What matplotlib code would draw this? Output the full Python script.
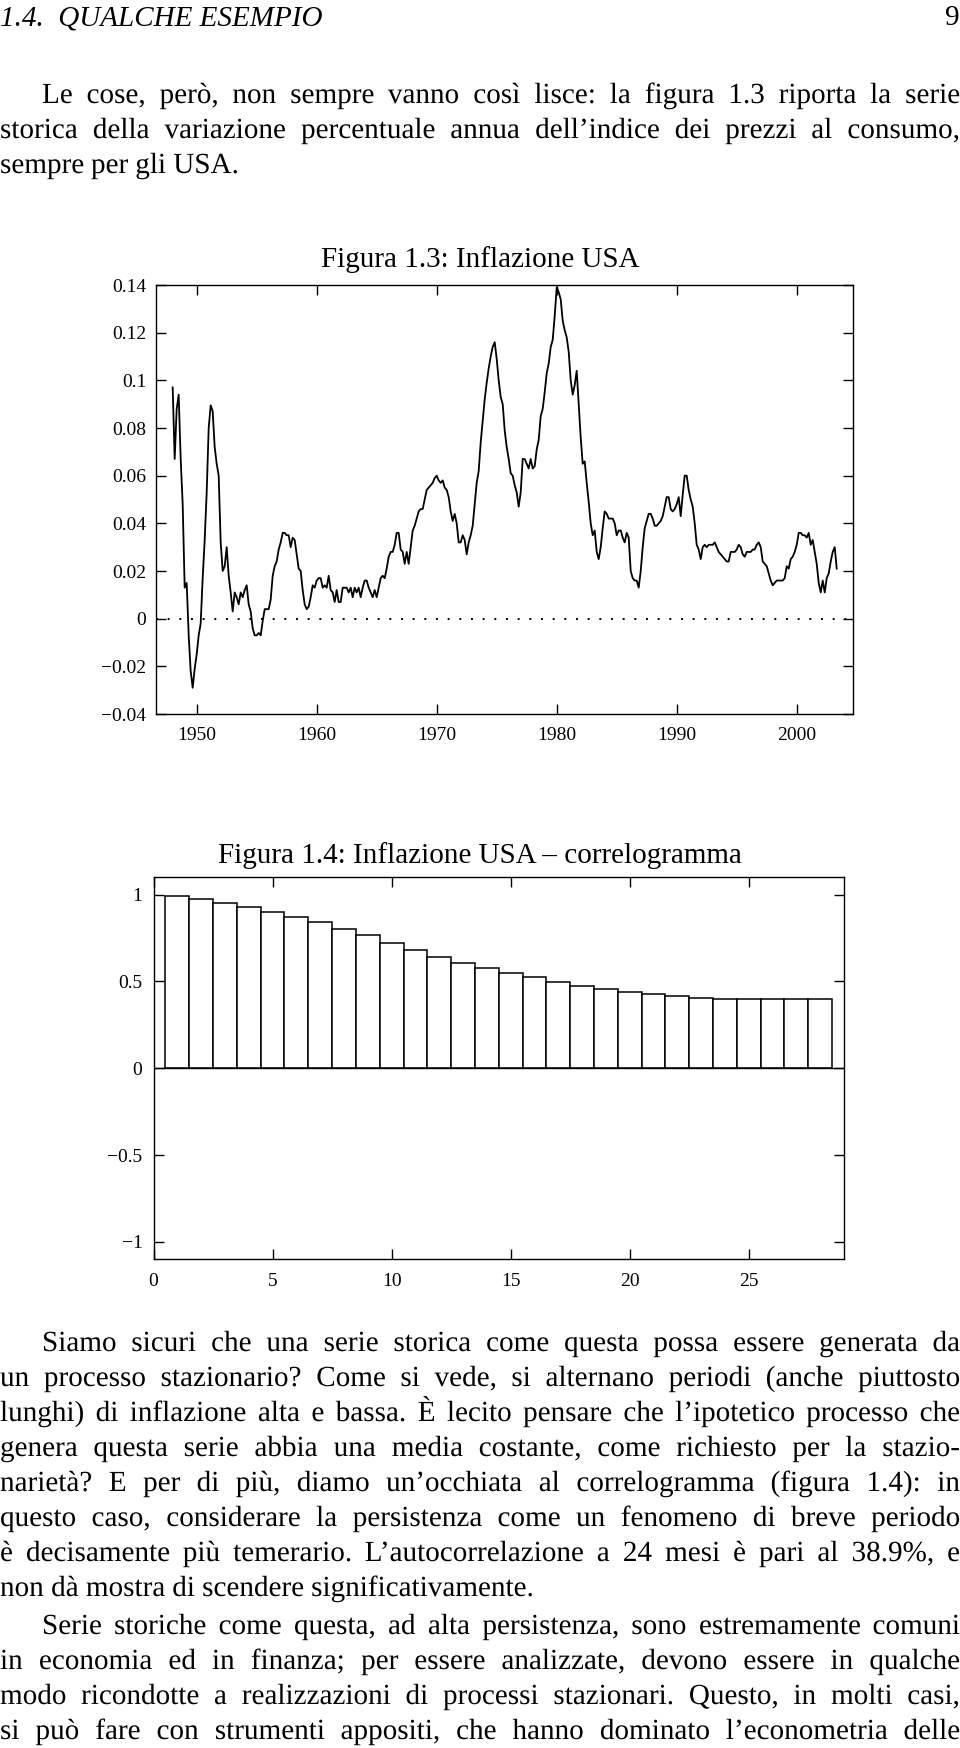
import numpy as np
import matplotlib
matplotlib.use("Agg")
import matplotlib.pyplot as plt
from matplotlib.textpath import TextPath
from matplotlib.patches import PathPatch
from matplotlib.font_manager import FontProperties
from matplotlib.transforms import Affine2D

# ---------------- data ----------------
# US CPI inflation (annual % change), bimonthly readings starting Jan 1948
infl_1948_1955 = [0.097, 0.067, 0.088, 0.094, 0.067, 0.048, 0.013, 0.015, -0.007, -0.022, -0.029, -0.021,
                  -0.015, -0.007, -0.002, 0.017, 0.033, 0.053, 0.080, 0.0895, 0.087, 0.072, 0.065, 0.060,
                  0.032, 0.020, 0.022, 0.030, 0.018, 0.011, 0.003, 0.011, 0.009, 0.006, 0.011, 0.009,
                  0.012, 0.014, 0.006, 0.003, -0.004, -0.007, -0.007, -0.006, -0.007, -0.001, 0.004, 0.004]
infl_1956_1965 = [0.004, 0.008, 0.018, 0.022, 0.024, 0.029, 0.032, 0.036, 0.036, 0.035, 0.035, 0.030,
                  0.034, 0.033, 0.027, 0.021, 0.020, 0.012, 0.006, 0.004, 0.005, 0.009, 0.014, 0.013,
                  0.016, 0.017, 0.017, 0.013, 0.014, 0.013, 0.018, 0.012, 0.011, 0.007, 0.012, 0.007,
                  0.007, 0.013, 0.013, 0.013, 0.011, 0.013, 0.009, 0.013, 0.011, 0.013, 0.009, 0.013,
                  0.016, 0.016, 0.013, 0.011, 0.009, 0.012, 0.009, 0.013, 0.017, 0.018, 0.017, 0.021]
infl_1966_1975 = [0.026, 0.028, 0.028, 0.031, 0.036, 0.036, 0.029, 0.028, 0.023, 0.028, 0.023, 0.030,
                  0.037, 0.039, 0.042, 0.045, 0.046, 0.046, 0.050, 0.054, 0.055, 0.056, 0.057, 0.059,
                  0.060, 0.058, 0.057, 0.058, 0.055, 0.054, 0.051, 0.045, 0.041, 0.044, 0.040, 0.032,
                  0.032, 0.035, 0.033, 0.027, 0.032, 0.035, 0.039, 0.048, 0.057, 0.062, 0.074, 0.083,
                  0.092, 0.099, 0.105, 0.110, 0.114, 0.116, 0.109, 0.100, 0.093, 0.090, 0.079, 0.072]
infl_1976_1985 = [0.067, 0.061, 0.060, 0.056, 0.053, 0.047, 0.053, 0.067, 0.067, 0.065, 0.063, 0.067,
                  0.063, 0.064, 0.071, 0.075, 0.085, 0.088, 0.095, 0.103, 0.107, 0.114, 0.117, 0.127,
                  0.139, 0.137, 0.134, 0.125, 0.121, 0.118, 0.112, 0.100, 0.094, 0.098, 0.104, 0.090,
                  0.076, 0.065, 0.066, 0.057, 0.049, 0.040, 0.035, 0.037, 0.028, 0.025, 0.030, 0.038,
                  0.045, 0.044, 0.042, 0.042, 0.042, 0.040, 0.035, 0.037, 0.037, 0.034, 0.032, 0.036]
infl_1986_1995 = [0.034, 0.020, 0.017, 0.016, 0.016, 0.013, 0.020, 0.030, 0.038, 0.041, 0.044, 0.044,
                  0.042, 0.039, 0.039, 0.040, 0.041, 0.043, 0.047, 0.051, 0.051, 0.046, 0.045, 0.046,
                  0.048, 0.051, 0.043, 0.052, 0.060, 0.060, 0.054, 0.050, 0.047, 0.040, 0.031, 0.029,
                  0.025, 0.030, 0.031, 0.030, 0.031, 0.031, 0.031, 0.032, 0.030, 0.028, 0.027, 0.026,
                  0.025, 0.024, 0.024, 0.028, 0.028, 0.028, 0.029, 0.031, 0.030, 0.027, 0.026, 0.028]
infl_1996_2003 = [0.028, 0.028, 0.029, 0.029, 0.031, 0.032, 0.030, 0.024, 0.023, 0.022, 0.019, 0.016,
                  0.014, 0.015, 0.016, 0.016, 0.016, 0.016, 0.017, 0.022, 0.021, 0.025, 0.026, 0.028,
                  0.031, 0.036, 0.036, 0.035, 0.035, 0.034, 0.036, 0.031, 0.033, 0.028, 0.023, 0.015,
                  0.011, 0.016, 0.011, 0.017, 0.019, 0.024, 0.028, 0.030, 0.021]
infl = infl_1948_1955 + infl_1956_1965 + infl_1966_1975 + infl_1976_1985 + infl_1986_1995 + infl_1996_2003
start_year = 1948.0
dates = start_year + np.arange(len(infl)) / 6.0

year_ticks = [1950, 1960, 1970, 1980, 1990, 2000]
year_labels = ["1950", "1960", "1970", "1980", "1990", "2000"]
y1_ticks = [-0.04, -0.02, 0.0, 0.02, 0.04, 0.06, 0.08, 0.10, 0.12, 0.14]
y1_labels = ["\u22120.04", "\u22120.02", "0", "0.02", "0.04", "0.06", "0.08", "0.1", "0.12", "0.14"]

# correlogram
lags = list(range(1, 29))
acf = [0.990, 0.975, 0.954, 0.929, 0.902, 0.871, 0.840, 0.805, 0.766, 0.724,
       0.683, 0.642, 0.609, 0.579, 0.549, 0.524, 0.496, 0.473, 0.454, 0.437,
       0.427, 0.414, 0.405, 0.398, 0.397, 0.397, 0.397, 0.401]
lag_ticks = [0, 5, 10, 15, 20, 25]
lag_labels = ["0", "5", "10", "15", "20", "25"]
y2_ticks = [-1, -0.5, 0, 0.5, 1]
y2_labels = ["\u22121", "\u22120.5", "0", "0.5", "1"]

# page text
header = "1.4.  QUALCHE ESEMPIO"
page_no = "9"
par1 = [
    "Le cose, però, non sempre vanno così lisce: la figura 1.3 riporta la serie",
    "storica della variazione percentuale annua dell\u2019indice dei prezzi al consumo,",
    "sempre per gli USA.",
]
title1 = "Figura 1.3: Inflazione USA"
title2 = "Figura 1.4: Inflazione USA \u2013 correlogramma"
par2 = [
    "Siamo sicuri che una serie storica come questa possa essere generata da",
    "un processo stazionario? Come si vede, si alternano periodi (anche piuttosto",
    "lunghi) di inflazione alta e bassa. È lecito pensare che l\u2019ipotetico processo che",
    "genera questa serie abbia una media costante, come richiesto per la stazio-",
    "narietà? E per di più, diamo un\u2019occhiata al correlogramma (figura 1.4): in",
    "questo caso, considerare la persistenza come un fenomeno di breve periodo",
    "è decisamente più temerario. L\u2019autocorrelazione a 24 mesi è pari al 38.9%, e",
    "non dà mostra di scendere significativamente.",
]
par3 = [
    "Serie storiche come questa, ad alta persistenza, sono estremamente comuni",
    "in economia ed in finanza; per essere analizzate, devono essere in qualche",
    "modo ricondotte a realizzazioni di processi stazionari. Questo, in molti casi,",
    "si può fare con strumenti appositi, che hanno dominato l\u2019econometria delle",
]

# ---------------- figure ----------------
plt.rcParams['font.family'] = ['Liberation Serif', 'DejaVu Serif']
plt.rcParams['axes.linewidth'] = 1.0
W, H = 960, 1748
fig = plt.figure(figsize=(W / 100, H / 100), dpi=100)
fig.patch.set_facecolor('white')


def rect(x0, y0, x1, y1):
    return [x0 / W, 1 - y1 / H, (x1 - x0) / W, (y1 - y0) / H]


bg = fig.add_axes([0, 0, 1, 1])
bg.set_xlim(0, W)
bg.set_ylim(H, 0)
bg.set_axis_off()
renderer = fig.canvas.get_renderer()
FS = 21
EM = FS * 100 / 72.0
fp = FontProperties(family='Liberation Serif', size=FS)


def word_width(w):
    return renderer.get_text_width_height_descent(w, fp, ismath=False)[0]


def draw_word(w, x, y):
    tp = TextPath((0, 0), w, size=EM, prop=fp)
    tr = Affine2D().scale(1, -1).translate(x, y) + bg.transData
    bg.add_patch(PathPatch(tp, transform=tr, facecolor='black', edgecolor='none', lw=0))


def put_line(text, y, x0=0.0, x1=W, justify=True):
    words = text.split(" ")
    widths = [word_width(w) for w in words]
    if justify and len(words) > 1:
        gap = (x1 - x0 - sum(widths)) / (len(words) - 1)
    else:
        gap = word_width("a a") - word_width("aa")
    x = x0
    for w, wd in zip(words, widths):
        draw_word(w, x, y)
        x += wd + gap


bg.text(0, 25, header, style='italic', fontsize=FS, va='baseline', ha='left')
bg.text(W, 25, page_no, fontsize=FS, va='baseline', ha='right')

INDENT = 42
base = [103, 138, 173]
for k, (line, y) in enumerate(zip(par1, base)):
    put_line(line, y, x0=INDENT if k == 0 else 0, justify=(k < len(par1) - 1))

base2 = [1351, 1386, 1421, 1456, 1491, 1526, 1561, 1596]
for k, (line, y) in enumerate(zip(par2, base2)):
    put_line(line, y, x0=INDENT if k == 0 else 0, justify=(k < len(par2) - 1))
base3 = [1634, 1669, 1704, 1739]
for k, (line, y) in enumerate(zip(par3, base3)):
    put_line(line, y, x0=INDENT if k == 0 else 0, justify=True)

bg.text(480, 267, title1, fontsize=FS, va='baseline', ha='center')
bg.text(480, 863, title2, fontsize=FS, va='baseline', ha='center')

# ---- Figure 1.3 ----
ax1 = fig.add_axes(rect(156, 285, 853, 714))
ax1.plot(dates, infl, color='black', lw=1.3)
ax1.axhline(0, color='black', lw=1.4, linestyle=(0, (1, 5)))
ax1.set_xlim(1946.61, 2004.69)
ax1.set_ylim(-0.04, 0.14)
ax1.set_xticks(year_ticks)
ax1.set_xticklabels(year_labels)
ax1.set_yticks(y1_ticks)
ax1.set_yticklabels(y1_labels)
ax1.tick_params(direction='in', length=7.2, width=1.0, top=True, right=True, labelsize=14)
ax1.tick_params(axis='x', pad=9)
ax1.tick_params(axis='y', pad=7)

# ---- Figure 1.4 ----
ax2 = fig.add_axes(rect(153.5, 877.3, 844, 1259.3))
ax2.bar(lags, acf, width=1.0, color='white', edgecolor='black', linewidth=1.1)
ax2.axhline(0, color='black', lw=1.0)
ax2.set_xlim(0, 29)
ax2.set_ylim(-1.1, 1.1)
ax2.set_xticks(lag_ticks)
ax2.set_xticklabels(lag_labels)
ax2.set_yticks(y2_ticks)
ax2.set_yticklabels(y2_labels)
ax2.tick_params(direction='in', length=7.2, width=1.0, top=True, right=True, labelsize=14)
ax2.tick_params(axis='x', pad=10)
ax2.tick_params(axis='y', pad=8)

fig.savefig("out.png", dpi=100, facecolor='white')
